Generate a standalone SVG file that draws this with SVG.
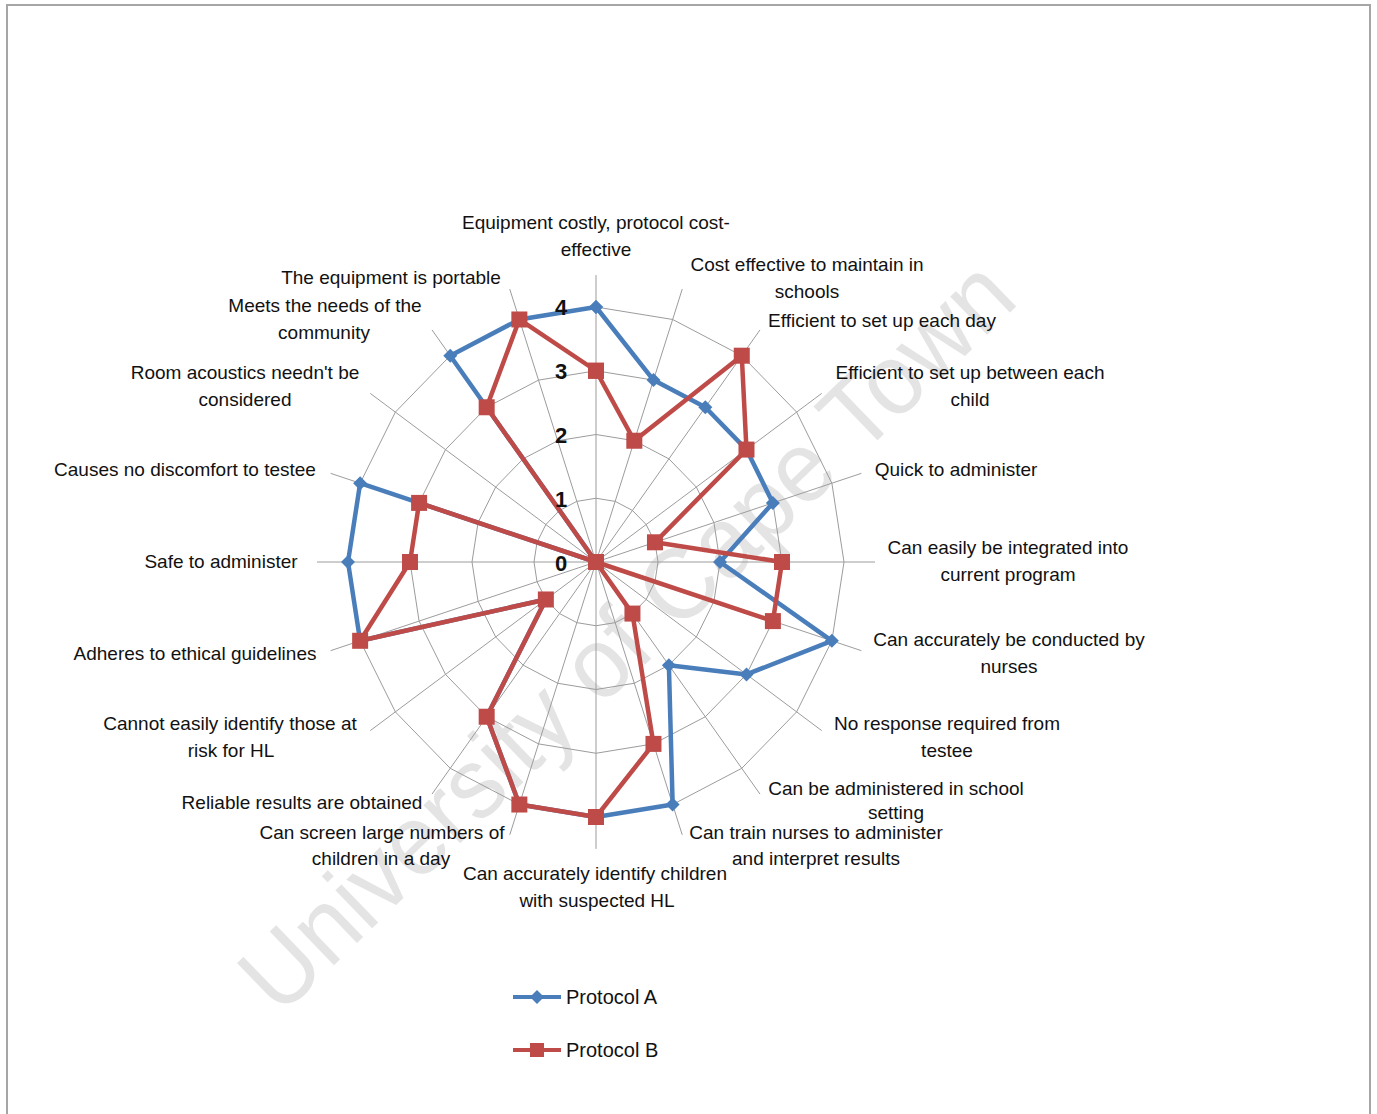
<svg xmlns="http://www.w3.org/2000/svg" width="1377" height="1114" viewBox="0 0 1377 1114">
  <style>
    .grid { fill: none; stroke: #9c9c9c; stroke-width: 1; }
    .lbl { font-family: "Liberation Sans", Arial, sans-serif; font-size: 19px; fill: #111; text-anchor: middle; }
    .num { font-family: "Liberation Sans", Arial, sans-serif; font-size: 22px; font-weight: bold; fill: #111; text-anchor: middle; }
    .leg { font-family: "Liberation Sans", Arial, sans-serif; font-size: 20px; fill: #111; }
    .sa { fill: none; stroke: #4a7ebb; stroke-width: 4.5; stroke-linejoin: round; }
    .sb { fill: none; stroke: #be4b48; stroke-width: 4.5; stroke-linejoin: round; }
    .wm { font-family: "Liberation Sans", Arial, sans-serif; font-size: 100px; fill: #e4e4e4; text-anchor: middle; }
  </style>
  <defs>
    <marker id="mA" markerUnits="userSpaceOnUse" markerWidth="14" markerHeight="14" refX="7" refY="7" orient="0" overflow="visible">
      <path d="M7 0 L14 7 L7 14 L0 7 Z" fill="#4a7ebb"/>
    </marker>
    <marker id="mB" markerUnits="userSpaceOnUse" markerWidth="16" markerHeight="16" refX="8" refY="8" orient="0" overflow="visible">
      <rect x="0" y="0" width="16" height="16" fill="#be4b48"/>
    </marker>
  </defs>

  <!-- page frame -->
  <rect x="0" y="0" width="1377" height="1114" fill="#ffffff"/>
  <rect x="7" y="5" width="1363" height="1125" fill="#ffffff" stroke="#a6a6a6" stroke-width="2"/>

  <!-- watermark -->
  <text class="wm" transform="translate(650,660) rotate(-44)" x="0" y="0" textLength="1030" lengthAdjust="spacingAndGlyphs">University of Cape Town</text>

  <!-- radar grid: rings at 1..4 -->
  <g id="grid">
    <polygon class="grid" points="596,498.25 615.16,501.37 632.44,510.43 646.16,524.53 654.97,542.30 658,562 654.97,581.70 646.16,599.47 632.44,613.58 615.16,622.63 596,625.75 576.84,622.63 559.56,613.58 545.84,599.47 537.03,581.70 534,562 537.03,542.30 545.84,524.53 559.56,510.43 576.84,501.37"/>
    <polygon class="grid" points="596,434.5 634.32,440.74 668.89,458.85 696.32,487.06 713.93,522.60 720,562 713.93,601.40 696.32,636.94 668.89,665.15 634.32,683.26 596,689.5 557.68,683.26 523.11,665.15 495.68,636.94 478.07,601.40 472,562 478.07,522.60 495.68,487.06 523.11,458.85 557.68,440.74"/>
    <polygon class="grid" points="596,370.75 653.48,380.11 705.33,407.27 746.48,449.58 772.90,502.90 782,562 772.90,621.10 746.48,674.42 705.33,716.73 653.48,743.89 596,753.25 538.52,743.89 486.67,716.73 445.52,674.42 419.10,621.10 410,562 419.10,502.90 445.52,449.58 486.67,407.27 538.52,380.11"/>
    <polygon class="grid" points="596,307 672.64,319.48 741.77,355.70 796.64,412.11 831.86,483.20 844,562 831.86,640.80 796.64,711.89 741.77,768.30 672.64,804.52 596,817 519.36,804.52 450.23,768.30 395.36,711.89 360.14,640.80 348,562 360.14,483.20 395.36,412.11 450.23,355.70 519.36,319.48"/>
    <!-- category spokes -->
    <path class="grid" d="M596 562 L596 275.12 M596 562 L682.22 289.16 M596 562 L759.99 329.91 M596 562 L821.72 393.38 M596 562 L861.35 473.35 M596 562 L875 562 M596 562 L861.35 650.65 M596 562 L821.72 730.62 M596 562 L759.99 794.09 M596 562 L682.22 834.84 M596 562 L596 848.88 M596 562 L509.78 834.84 M596 562 L432.01 794.09 M596 562 L370.28 730.62 M596 562 L330.65 650.65 M596 562 L317 562 M596 562 L330.65 473.35 M596 562 L370.28 393.38 M596 562 L432.01 329.91 M596 562 L509.78 289.16"/>
  </g>

  <!-- data series -->
  <g id="series">
    <polygon id="protocol-a" class="sa" marker-start="url(#mA)" marker-mid="url(#mA)" marker-end="url(#mA)" points="596,307 653.48,380.11 705.33,407.27 746.48,449.58 772.90,502.90 720,562 831.86,640.80 746.48,674.42 668.89,665.15 672.64,804.52 596,817 519.36,804.52 486.67,716.73 545.84,599.47 360.14,640.80 348,562 360.14,483.20 596,562 450.23,355.70 519.36,319.48"/>
    <polygon id="protocol-b" class="sb" marker-start="url(#mB)" marker-mid="url(#mB)" marker-end="url(#mB)" points="596,370.75 634.32,440.74 741.77,355.70 746.48,449.58 654.97,542.30 782,562 772.90,621.10 596,562 632.44,613.58 653.48,743.89 596,817 519.36,804.52 486.67,716.73 545.84,599.47 360.14,640.80 410,562 419.10,502.90 596,562 486.67,407.27 519.36,319.48"/>
  </g>

  <!-- value axis -->
  <g id="value-axis">
    <text class="num" x="561" y="315">4</text>
    <text class="num" x="561" y="379">3</text>
    <text class="num" x="561" y="443">2</text>
    <text class="num" x="561" y="507">1</text>
    <text class="num" x="561" y="571">0</text>
  </g>

  <!-- category labels, clockwise from top -->
  <g id="categories">
    <text class="lbl" x="596" y="229">Equipment costly, protocol cost-</text>
    <text class="lbl" x="596" y="256">effective</text>
    <text class="lbl" x="807" y="271">Cost effective to maintain in</text>
    <text class="lbl" x="807" y="298">schools</text>
    <text class="lbl" x="882" y="327">Efficient to set up each day</text>
    <text class="lbl" x="970" y="379">Efficient to set up between each</text>
    <text class="lbl" x="970" y="406">child</text>
    <text class="lbl" x="956" y="476">Quick to administer</text>
    <text class="lbl" x="1008" y="554">Can easily be integrated into</text>
    <text class="lbl" x="1008" y="581">current program</text>
    <text class="lbl" x="1009" y="646">Can accurately be conducted by</text>
    <text class="lbl" x="1009" y="673">nurses</text>
    <text class="lbl" x="947" y="730">No response required from</text>
    <text class="lbl" x="947" y="757">testee</text>
    <text class="lbl" x="896" y="795">Can be administered in school</text>
    <text class="lbl" x="896" y="819">setting</text>
    <text class="lbl" x="816" y="839">Can train nurses to administer</text>
    <text class="lbl" x="816" y="865">and interpret results</text>
    <text class="lbl" x="595" y="880">Can accurately identify children</text>
    <text class="lbl" x="597" y="907">with suspected HL</text>
    <text class="lbl" x="382" y="839">Can screen large numbers of</text>
    <text class="lbl" x="381" y="865">children in a day</text>
    <text class="lbl" x="302" y="809">Reliable results are obtained</text>
    <text class="lbl" x="230" y="730">Cannot easily identify those at</text>
    <text class="lbl" x="231" y="757">risk for HL</text>
    <text class="lbl" x="195" y="660">Adheres to ethical guidelines</text>
    <text class="lbl" x="221" y="568">Safe to administer</text>
    <text class="lbl" x="185" y="476">Causes no discomfort to testee</text>
    <text class="lbl" x="245" y="379">Room acoustics needn't be</text>
    <text class="lbl" x="245" y="406">considered</text>
    <text class="lbl" x="325" y="312">Meets the needs of the</text>
    <text class="lbl" x="324" y="339">community</text>
    <text class="lbl" x="391" y="284">The equipment is portable</text>
  </g>

  <!-- legend -->
  <g id="legend">
    <line x1="513" y1="997" x2="561" y2="997" stroke="#4a7ebb" stroke-width="4"/>
    <path d="M537 990 L544 997 L537 1004 L530 997 Z" fill="#4a7ebb"/>
    <text class="leg" x="566" y="1004">Protocol A</text>
    <line x1="513" y1="1050" x2="561" y2="1050" stroke="#be4b48" stroke-width="4"/>
    <rect x="530" y="1043" width="14" height="14" fill="#be4b48"/>
    <text class="leg" x="566" y="1057">Protocol B</text>
  </g>
</svg>
